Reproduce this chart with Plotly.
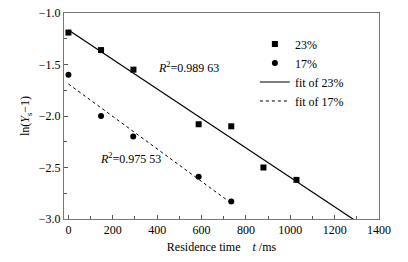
import numpy as np
import plotly.graph_objects as go

# Data
t23 = [0, 147, 293, 587, 734, 879, 1028]
y23 = [-1.19, -1.36, -1.55, -2.08, -2.10, -2.50, -2.62]
t17 = [0, 147, 292, 587, 734]
y17 = [-1.60, -2.00, -2.20, -2.59, -2.83]
fit23_t = [0, 1300]
fit17_t = [0, 734]
r2_labels = ["<i>R</i><sup>2</sup>=0.989 63", "<i>R</i><sup>2</sup>=0.975 53"]
r2_pos_t = [395, 135]
r2_pos_y = [-1.53, -2.41]
x_ticks = [0, 200, 400, 600, 800, 1000, 1200, 1400]
y_ticks = [-3.0, -2.5, -2.0, -1.5, -1.0]

# Linear fits of the series
p23 = np.polyfit(t23, y23, 1)
p17 = np.polyfit(t17, y17, 1)
fit23_y = list(np.polyval(p23, fit23_t))
fit17_y = list(np.polyval(p17, fit17_t))

FONT = "Liberation Serif"
fig = go.Figure()
fig.add_trace(go.Scatter(x=t23, y=y23, mode="markers", name="23%",
                         marker=dict(symbol="square", size=6, color="black")))
fig.add_trace(go.Scatter(x=t17, y=y17, mode="markers", name="17%",
                         marker=dict(symbol="circle", size=6, color="black")))
fig.add_trace(go.Scatter(x=fit23_t, y=fit23_y, mode="lines", name="fit of 23%",
                         line=dict(color="black", width=1.2)))
fig.add_trace(go.Scatter(x=fit17_t, y=fit17_y, mode="lines", name="fit of 17%",
                         line=dict(color="black", width=1, dash="dot")))

for txt, xt, yv in zip(r2_labels, r2_pos_t, r2_pos_y):
    fig.add_annotation(x=xt, y=yv, text=txt, showarrow=False, xanchor="left",
                       yanchor="middle", font=dict(family=FONT, size=12, color="black"))

axis_common = dict(showline=True, linecolor="#777", linewidth=1, mirror=True,
                   ticks="inside", ticklen=4, tickcolor="#555", showgrid=False,
                   zeroline=False, automargin=False,
                   tickfont=dict(family=FONT, size=12, color="black"))
fig.update_xaxes(range=[-20, 1400], tickvals=x_ticks, ticktext=[str(v) for v in x_ticks],
                 minor=dict(ticks="inside", ticklen=3, dtick=100, tickcolor="#555"),
                 title=dict(text="Residence time    <i>t</i> /ms", standoff=6,
                            font=dict(family=FONT, size=12, color="black")),
                 **axis_common)
fig.update_yaxes(range=[-3.0, -1.0], tickvals=y_ticks,
                 ticktext=["\u22123.0", "\u22122.5", "\u22122.0", "\u22121.5", "\u22121.0"],
                 minor=dict(ticks="inside", ticklen=3, dtick=0.25, tickcolor="#555"),
                 title=dict(text="ln(<i>Y</i><sub>s</sub>\u22121)", standoff=6,
                            font=dict(family=FONT, size=12, color="black")),
                 **axis_common)
fig.update_layout(width=408, height=262, margin=dict(l=64, r=29, t=13, b=43),
                  plot_bgcolor="white", paper_bgcolor="white",
                  legend=dict(x=0.606, y=0.92, xanchor="left", yanchor="top",
                              bgcolor="rgba(0,0,0,0)", tracegroupgap=0,
                              font=dict(family=FONT, size=12, color="black")),
                  font=dict(family=FONT, size=12, color="black"))
# remove the page's default body margin so the figure fills the window exactly
fig.write_html("out.html", config={"displayModeBar": False},
               post_script="document.body.style.margin='0px';")
